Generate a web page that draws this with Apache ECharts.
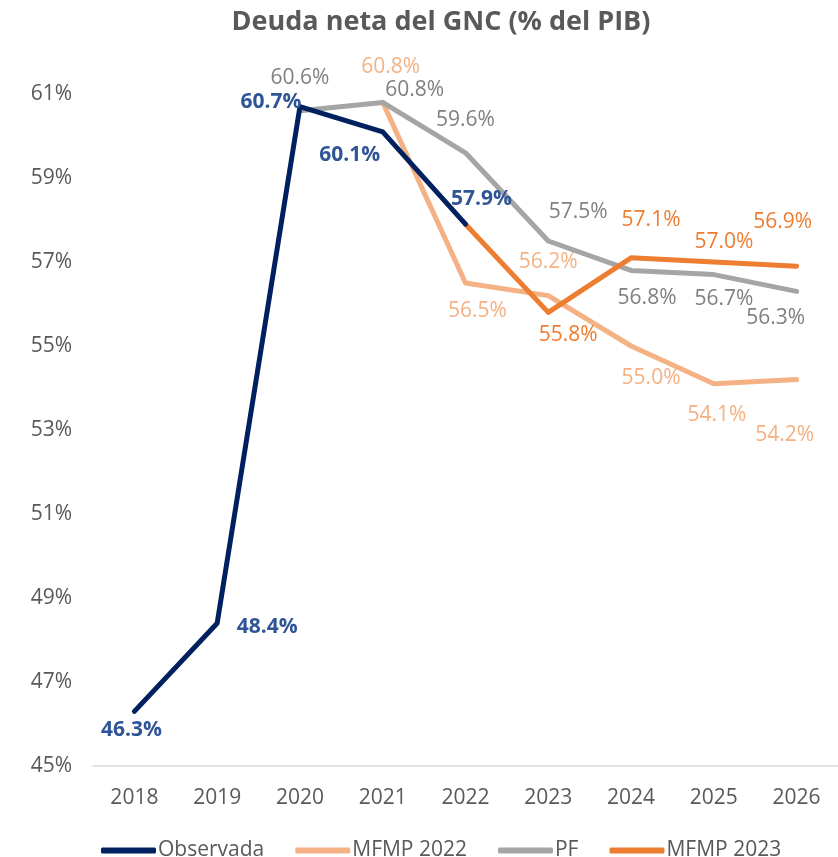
<!DOCTYPE html>
<html><head><meta charset="utf-8">
<script src="https://cdn.jsdelivr.net/npm/echarts@6/dist/echarts.min.js"></script>
<style>html,body{margin:0;padding:0;background:#fff}#c{width:838px;height:857px}</style>
</head><body><div id="c"></div>
<script>
var years = ['2018','2019','2020','2021','2022','2023','2024','2025','2026'];
var observada = [46.3, 48.4, 60.7, 60.1, 57.9, null, null, null, null];
var mfmp2022  = [null, null, null, 60.8, 56.5, 56.2, 55.0, 54.1, 54.2];
var pf        = [null, null, 60.6, 60.8, 59.6, 57.5, 56.8, 56.7, 56.3];
var mfmp2023  = [null, null, null, null, 57.9, 55.8, 57.1, 57.0, 56.9];
var yTicks = [45, 47, 49, 51, 53, 55, 57, 59, 61];

// label offsets (style only)
var offObs  = [[-3,19],[50,4],[-29,-5],[-33,23],[16,-25],null,null,null,null];
var offM22  = [null,null,null,[8,-35],[12,28],[0,-34],[20,32],[3,31],[-12,55]];
var offPF   = [null,null,[0,-33],[32,-12],[0,-33],[30,-29],[16,28],[10,24],[-21,27]];
var offM23  = [null,null,null,null,null,[20,23],[20,-38],[10,-20],[-14,-44]];

var FONT = "'Open Sans', sans-serif";
var FS = 21;

function build(vals, offs, color, bold){
  return vals.map(function(v,i){
    if (v === null) return '-';
    var o = offs[i];
    return {
      value: v,
      label: o ? {show:true, position:'inside', offset:o, color:color,
                  fontWeight: bold?'bold':'normal', fontSize:FS, fontFamily:FONT,
                  formatter: function(p){return p.value.toFixed(1)+'%';}} : {show:false}
    };
  });
}

function mk(name, vals, offs, lineColor, labelColor, bold, z){
  return {
    name: name, type:'line', z:z,
    data: build(vals, offs, labelColor, bold),
    symbol:'circle', symbolSize:0.01, showSymbol:true,
    itemStyle:{color:lineColor},
    lineStyle:{color:lineColor, width:5, cap:'round', join:'round'},
    label:{show:false},
    emphasis:{disabled:true},
    animation:false
  };
}

var chart = echarts.init(document.getElementById('c'));
chart.setOption({
  backgroundColor:'#fff',
  animation:false,
  title:{text:'Deuda neta del GNC (% del PIB)', left:436, textAlign:'center', top:4,
    textStyle:{color:'#595959', fontSize:27, fontWeight:'bold', fontFamily:FONT}},
  grid:{left:93, right:-6, top:94, bottom:91, containLabel:false},
  xAxis:{type:'category', data:years, boundaryGap:true,
    axisLine:{show:true, lineStyle:{color:'#D9D9D9', width:1.5}},
    axisTick:{show:false},
    axisLabel:{color:'#595959', fontSize:FS, fontFamily:FONT, margin:22}},
  yAxis:{type:'value', min:yTicks[0], max:yTicks[yTicks.length-1], interval:2,
    splitLine:{show:false}, axisLine:{show:false}, axisTick:{show:false},
    axisLabel:{color:'#595959', fontSize:FS, fontFamily:FONT, margin:21,
      formatter:function(v){return v+'%';}}},
  legend:{bottom:-9, left:96, itemGap:31, itemWidth:55, itemHeight:6, icon:'roundRect',
    data:['Observada','MFMP 2022','PF','MFMP 2023'],
    textStyle:{color:'#595959', fontSize:FS, fontFamily:FONT, padding:[0,0,0,-3]}},
  series:[
    mk('Observada', observada, offObs, '#002060', '#2F5597', true, 4),
    mk('MFMP 2022', mfmp2022, offM22, '#F4B183', '#F4B183', false, 1),
    mk('PF', pf, offPF, '#A5A5A5', '#808080', false, 2),
    mk('MFMP 2023', mfmp2023, offM23, '#ED7D31', '#ED7D31', false, 3)
  ]
});
</script></body></html>
